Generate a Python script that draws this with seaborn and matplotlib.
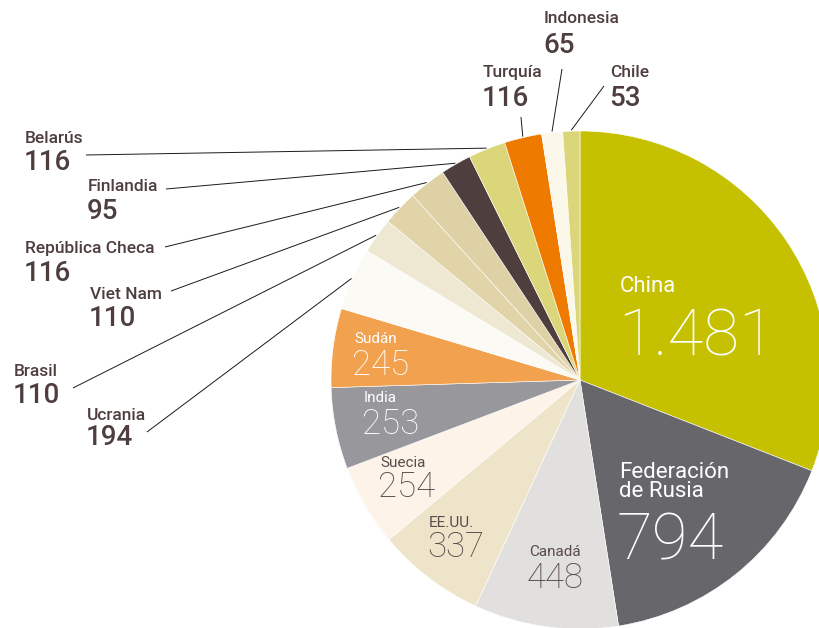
import numpy as np
import matplotlib
matplotlib.use("Agg")
import matplotlib.pyplot as plt
import seaborn as sns

# Data (clockwise from 12 o'clock)
countries = ["China", "Federación de Rusia", "Canadá", "EE.UU.", "Suecia", "India", "Sudán",
             "Ucrania", "Brasil", "Viet Nam", "República Checa", "Finlandia", "Belarús",
             "Turquía", "Indonesia", "Chile"]
values = [1481, 794, 448, 337, 254, 253, 245, 194, 110, 110, 116, 95, 116, 116, 65, 53]
value_labels = ["1.481", "794", "448", "337", "254", "253", "245", "194", "110", "110",
                "116", "95", "116", "116", "65", "53"]
slice_colors = ["#C6C100", "#67666B", "#E1E0DE", "#EEE4C9", "#FDF3E9", "#98979C", "#F2A24F",
                "#FBFAF4", "#EEE7D1", "#E1D4A9", "#DFD1A6", "#4F3E3E", "#DCD67A",
                "#EE7A00", "#FBF8EA", "#DCD67A"]

sns.set_theme(style="white")
plt.rcParams["font.family"] = ["Roboto", "DejaVu Sans"]

dark = "#4E3E3E"

fig = plt.figure(figsize=(8.2, 6.28), dpi=100)
ax = fig.add_axes([0, 0, 1, 1])

cx, cy, r = 580, 380, 249
# y axis is inverted below: counterclockwise in data appears clockwise on screen
wedges, _ = ax.pie(values, colors=slice_colors, startangle=-90, counterclock=True,
                   center=(cx, cy), radius=r, frame=True,
                   wedgeprops=dict(edgecolor="white", linewidth=0.4))
ax.set_xlim(0, 820)
ax.set_ylim(628, 0)  # pixel-like coordinates, y down
ax.set_aspect("equal")
ax.axis("off")

# labels drawn inside slices: (index, x, name baseline, value baseline, name size, value size, color)
inner = [
    (0, 620, 292, 355, 16, 47, "white"),
    (2, 529, 556, 588, 11, 25, "#5A4C4C"),
    (3, 429, 527, 557, 11, 25, "#5A4C4C"),
    (4, 380, 467, 497, 11, 25, "#5A4C4C"),
    (5, 364, 402, 434, 11, 25, "white"),
    (6, 354, 343, 375, 11, 25, "white"),
]
for i, x, yn, yv, fsn, fsv, col in inner:
    ax.text(x, yn, countries[i], color=col, fontsize=fsn, va="baseline", ha="left")
    ax.text(x - 2, yv, value_labels[i], color=col, fontsize=fsv, va="baseline", ha="left",
            fontweight=100)

# Russia label on two lines
ax.text(619, 478, "Federación", color="white", fontsize=16, va="baseline")
ax.text(619, 497, "de Rusia", color="white", fontsize=16, va="baseline")
ax.text(617, 560, value_labels[1], color="white", fontsize=47, va="baseline", fontweight=100)

# labels outside with leader lines: (index, x, name baseline, value baseline, line start)
outer = [
    (12, 25, 143, 170, (86, 155)),
    (11, 88, 191, 219, (166, 189)),
    (10, 25, 253, 281, (165, 247)),
    (9, 90, 299, 326, (171, 291)),
    (8, 14, 376, 403, (73, 388)),
    (7, 87, 420, 445, (147, 432)),
    (13, 483, 77, 106, (521, 117)),
    (14, 544, 23, 53, (562, 69)),
    (15, 610, 77, 106, (604, 86)),
]
for i, x, yn, yv, start in outer:
    ax.text(x, yn, countries[i], color=dark, fontsize=12.5, fontweight="medium", va="baseline")
    ax.text(x - 1, yv, value_labels[i], color=dark, fontsize=20, fontweight="medium",
            va="baseline")
    w = wedges[i]
    ang = np.deg2rad((w.theta1 + w.theta2) / 2)
    ex, ey = cx + (r + 1) * np.cos(ang), cy + (r + 1) * np.sin(ang)
    ax.plot([start[0], ex], [start[1], ey], color="#1A1A1A", linewidth=0.7,
            solid_capstyle="butt")

fig.savefig("out.png", dpi=100, facecolor="white")
